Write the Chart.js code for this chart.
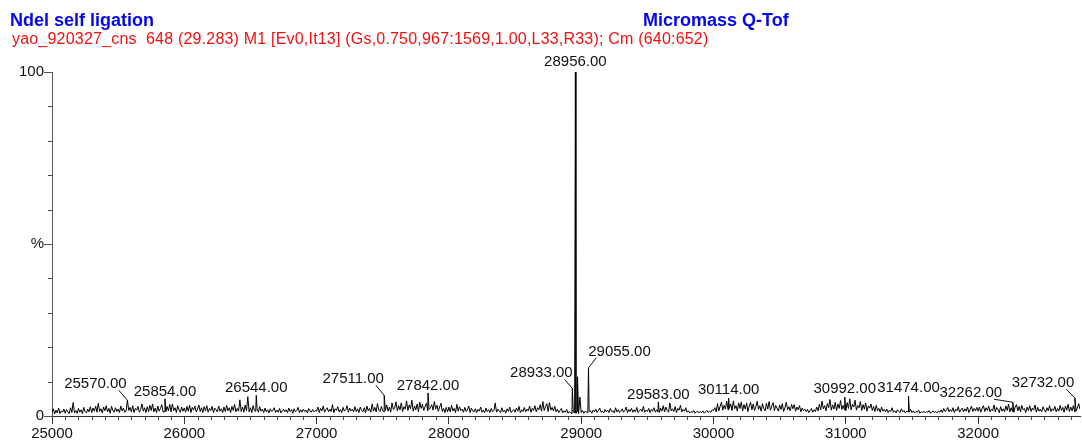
<!DOCTYPE html>
<html>
<head>
<meta charset="utf-8">
<title>Ndel self ligation</title>
<script src="https://cdn.jsdelivr.net/npm/chart.js@4.4.1/dist/chart.umd.min.js"></script>
<style>
    body { margin: 0; background: #fff; }
    #wrap { position: relative; width: 1082px; height: 443px; font-family: "Liberation Sans", Arial, sans-serif; }
    #spectrum { position: absolute; left: 0; top: 0; }
    .hdr { position: absolute; white-space: pre; line-height: 18px; }
    .blue { color: #0505f0; font-weight: bold; font-size: 18px; top: 11px; }
    .red { color: #f01010; font-size: 16px; letter-spacing: 0.2px; left: 12px; top: 30px; }
</style>
</head>
<body>
<div id="wrap">
    <canvas id="spectrum" width="1082" height="443"></canvas>
    <div class="hdr blue" style="left:10px">Ndel self ligation</div>
    <div class="hdr blue" style="left:643px">Micromass Q-Tof</div>
    <div class="hdr red">yao_920327_cns  648 (29.283) M1 [Ev0,It13] (Gs,0.750,967:1569,1.00,L33,R33); Cm (640:652)</div>
</div>
<script>
// baseline intensity (%), one value every 10 Da starting at 25000
const mzStart = 25000;
const mzStep = 10;
const noise25 = [1.0,2.1,0.6,1.7,0.9,2.3,0.7,1.5,1.1,2.0, 0.8,1.9,1.2,0.7,2.4,1.0,3.9,0.9,1.6,0.8,
                 2.2,1.1,1.8,0.7,2.5,1.3,0.9,2.0,1.2,2.7, 1.0,2.3,1.4,2.9,1.1,3.7,1.3,2.1,0.9,2.6,
                 1.5,3.0,1.2,2.2,0.8,2.8,1.6,1.1,2.4,1.3, 2.0,1.0,2.9,1.5,2.3,1.1,1.4,0.9,1.6,2.5,
                 1.2,3.0,1.0,2.2,1.7,2.8,1.1,1.9,3.5,1.4, 2.4,1.0,2.7,1.3,3.1,1.6,3.5,1.2,2.3,1.0,
                 2.9,1.4,2.2,3.3,1.1,1.3,1.2,2.8,1.5,3.4, 1.2,3.5,1.6,2.4,1.0,3.0,1.8,1.1,2.6,1.4];
const noise26 = [2.3,1.1,2.8,1.4,3.1,1.0,2.5,1.7,2.9,1.2, 2.0,3.2,1.3,2.4,1.0,2.7,1.5,3.0,1.1,2.2,
                 1.6,2.8,1.0,2.3,1.8,1.2,2.9,1.4,2.1,1.0, 2.6,1.3,3.1,1.5,2.4,1.0,2.8,1.6,3.4,1.2,
                 2.2,1.4,4.7,1.3,2.6,1.1,3.2,1.5,5.6,1.2, 2.4,1.0,3.0,1.6,1.3,2.2,1.1,2.7,1.4,2.0,
                 1.0,2.3,1.2,1.8,0.9,2.1,1.3,1.6,2.4,1.0, 1.7,1.1,2.2,0.9,1.5,2.0,1.2,1.8,1.0,2.3,
                 1.3,1.9,0.8,2.1,1.2,1.6,2.5,1.0,1.8,1.1, 2.0,1.3,1.7,0.9,2.2,1.4,1.1,1.9,1.2,1.6];
const noise27 = [1.4,2.6,1.0,2.2,1.5,2.9,1.1,1.8,2.4,1.2, 2.0,1.3,3.3,1.0,2.1,1.6,2.7,1.2,1.9,1.0,
                 2.5,1.4,1.8,3.0,1.1,2.3,1.5,2.0,1.2,2.7, 1.3,2.1,1.0,2.6,1.6,1.2,2.4,1.0,2.9,1.5,
                 2.2,1.1,3.5,1.4,2.5,1.2,3.6,1.7,1.3,2.8, 1.5,1.2,1.6,3.2,1.4,2.6,1.1,3.8,1.9,2.3,
                 4.1,1.5,3.0,1.8,3.8,1.3,2.7,2.0,4.4,1.6, 3.2,2.1,4.6,1.4,2.9,1.8,3.5,1.2,4.0,2.2,
                 3.4,1.6,2.8,3.7,1.5,1.9,2.4,3.3,1.7,4.2, 2.0,3.1,1.4,2.6,3.7,1.3,2.2,1.0,2.5,1.2];
const noise28 = [2.6,1.2,3.1,1.5,2.2,1.0,3.4,1.4,2.7,1.6, 2.0,1.1,2.5,1.3,1.8,2.9,1.0,2.3,1.5,1.2,
                 2.1,1.0,1.9,1.4,2.6,1.1,1.7,1.0,2.3,1.3, 1.8,1.0,2.2,1.2,1.6,3.8,1.1,2.0,1.4,1.0,
                 2.4,1.2,1.7,0.9,2.1,1.3,2.6,1.0,1.5,1.9, 1.1,2.3,1.4,2.8,1.0,1.8,1.3,2.5,1.2,2.0,
                 1.5,2.9,1.1,2.2,1.6,3.0,1.2,2.4,1.8,3.3, 1.4,4.2,1.6,2.7,3.6,1.3,3.9,1.7,2.5,1.5,
                 2.8,1.2,2.0,1.0,1.6,2.2,0.9,1.5,1.1,1.9, 0.8,1.3,0.9,0.7,1.1,1.0,0.8,1.2,0.6,1.0];
const noise29 = [1.0,1.6,0.8,1.4,1.1,0.9,1.3,1.5,0.8,1.7, 1.2,2.0,1.0,1.6,2.3,1.1,1.4,0.9,1.9,1.2,
                 1.7,1.0,2.2,1.3,1.5,0.9,2.4,1.2,1.8,1.0, 1.4,2.1,1.1,1.6,2.6,1.0,1.9,1.3,2.2,1.1,
                 1.8,1.2,2.5,1.0,1.6,2.0,1.3,2.8,1.1,1.7, 1.3,2.2,1.0,1.9,1.4,2.4,1.1,1.8,1.2,1.0,
                 2.3,1.4,3.0,1.2,2.6,1.6,1.1,3.8,1.5,2.1, 1.3,2.7,1.0,2.2,1.7,3.1,1.2,1.9,1.4,2.4,
                 1.1,1.5,0.9,1.3,1.0,1.6,0.8,1.2,1.4,0.9, 1.3,1.0,1.5,0.8,1.2,1.6,1.0,1.4,1.1,1.8];
const noise30 = [1.6,2.4,1.2,3.6,1.5,2.8,4.0,1.7,3.1,2.0, 4.3,1.8,2.2,3.5,1.6,4.4,2.1,3.0,1.4,3.8,
                 2.2,4.1,1.5,3.3,2.0,3.8,1.3,2.9,4.0,1.8, 3.5,1.6,2.7,4.3,1.9,3.0,1.4,3.6,2.2,1.5,
                 3.7,2.0,4.2,1.7,2.8,3.9,1.5,3.1,2.3,1.4, 3.2,1.9,3.6,1.3,2.5,4.0,1.8,2.7,1.5,3.4,
                 2.1,3.3,1.4,2.6,1.8,3.0,1.2,2.3,1.6,2.0, 1.3,1.9,1.0,1.6,2.2,1.1,1.8,1.3,2.6,1.5,
                 3.4,1.8,4.3,2.1,3.0,1.5,3.6,2.4,4.8,1.7, 3.2,2.0,4.0,1.6,3.5,2.2,4.5,1.9,3.1,1.8];
const noise31 = [1.5,3.9,2.2,5.0,1.8,3.4,2.6,4.6,1.7,3.0, 2.4,4.2,1.6,3.3,2.0,3.8,1.4,2.9,2.3,3.5,
                 1.6,2.8,1.3,3.1,1.5,2.2,1.1,2.6,1.4,1.9, 1.2,2.0,1.0,1.7,1.3,2.4,1.1,1.5,0.9,1.8,
                 1.3,1.0,2.1,1.2,1.6,0.9,1.4,1.2,1.1,1.9, 1.0,1.5,0.9,1.3,1.1,1.7,0.8,1.2,1.0,1.4,
                 0.9,1.3,1.1,1.6,0.8,1.2,1.5,1.0,1.3,0.9, 1.4,1.1,1.8,1.0,2.2,1.3,1.6,2.5,1.2,1.9,
                 1.3,2.4,1.0,2.0,1.5,2.7,1.1,1.8,2.3,1.2, 2.1,1.4,2.6,1.0,1.9,2.9,1.3,2.2,1.5,2.5];
const noise32 = [1.4,2.6,1.1,2.2,3.0,1.3,2.4,1.6,2.9,1.2, 2.0,1.5,3.2,1.2,2.5,1.8,1.0,2.7,1.4,2.1,
                 1.3,2.9,1.6,3.5,1.2,2.4,1.3,1.1,2.6,3.3, 1.5,2.8,1.2,3.1,1.8,2.2,1.0,2.6,1.6,3.0,
                 1.3,2.3,1.7,3.2,1.1,2.5,1.4,2.0,1.2,2.7, 1.8,1.1,2.4,1.5,3.0,1.3,2.1,1.6,2.8,1.2,
                 2.2,1.4,3.1,1.6,2.5,1.1,2.9,1.7,3.4,1.3, 2.6,1.5,3.0,1.2,1.4,2.3,3.6,2.0];

// labelled peaks (m/z, % intensity)
const peakMz  = [25570, 25854, 26544, 27511, 27842, 28933, 28956, 29055, 29583, 30114, 30992, 31474, 32262, 32732];
const peakPct = [4.6, 5.0, 6.0, 6.0, 6.7, 8.0, 100, 14.0, 4.1, 5.2, 5.5, 5.8, 4.0, 5.2];

// unlabelled shoulders beside the main peak
const shoulderMz  = [28972, 28990];
const shoulderPct = [11.4, 5.5];

const xTicks = [25000, 26000, 27000, 28000, 29000, 30000, 31000, 32000];
const yTicks = [0, 50, 100];

// label placement relative to the peak top (px); leader lines for shifted ones
const labelDx = [-32, 0, 0, -31, 0, -31, 0, 31, 0, 0, 0, 0, -42, -32];
const labelDy = [-12, -3, -3, -12, -3, -11, -6, -12, -3, -4, -4, -4, -5, -11];

function buildSpectrum() {
    let noise = [].concat(noise25, noise26, noise27, noise28, noise29, noise30, noise31, noise32);
    let marked = peakMz.concat(shoulderMz);
    let pts = [];
    noise.forEach((v, i) => {
        let mz = mzStart + i * mzStep;
        if (marked.indexOf(mz) < 0) pts.push({ x: mz, y: v });
    });
    peakMz.forEach((mz, i) => pts.push({ x: mz, y: peakPct[i] }));
    shoulderMz.forEach((mz, i) => pts.push({ x: mz, y: shoulderPct[i] }));
    pts.sort((a, b) => a.x - b.x);
    return pts;
}

const minorTicks = {
    id: 'minorTicks',
    afterDraw(chart) {
        let ctx = chart.ctx;
        let xs = chart.scales.x;
        let ys = chart.scales.y;
        ctx.save();
        ctx.strokeStyle = '#444';
        ctx.lineWidth = 1;
        ctx.beginPath();
        for (let v = 25100; v < xs.max; v += 100) {
            if (v % 1000 === 0) continue;
            let px = Math.round(xs.getPixelForValue(v)) + 0.5;
            ctx.moveTo(px, ys.bottom);
            ctx.lineTo(px, ys.bottom + 4);
        }
        for (let v = 10; v < 100; v += 10) {
            if (v === 50) continue;
            let py = Math.round(ys.getPixelForValue(v)) + 0.5;
            ctx.moveTo(xs.left, py);
            ctx.lineTo(xs.left - 4, py);
        }
        ctx.stroke();
        ctx.restore();
    }
};

const peakLabels = {
    id: 'peakLabels',
    afterDraw(chart) {
        let ctx = chart.ctx;
        let xs = chart.scales.x;
        let ys = chart.scales.y;
        ctx.save();
        ctx.font = '15px "Liberation Sans", Arial, sans-serif';
        ctx.fillStyle = '#111';
        ctx.strokeStyle = '#111';
        ctx.lineWidth = 1;
        ctx.textAlign = 'center';
        ctx.textBaseline = 'alphabetic';
        peakMz.forEach((mz, i) => {
            let text = mz.toFixed(2);
            let px = xs.getPixelForValue(mz);
            let py = ys.getPixelForValue(peakPct[i]);
            let cx = px + labelDx[i];
            let by = py + labelDy[i];
            ctx.fillText(text, cx, by);
            if (Math.abs(labelDx[i]) > 5) {
                let w = ctx.measureText(text).width;
                let sx = labelDx[i] < 0 ? cx + w / 2 - 8 : cx - w / 2 + 8;
                ctx.beginPath();
                ctx.moveTo(sx, by + 2);
                ctx.lineTo(px, py);
                ctx.stroke();
            }
        });
        ctx.restore();
    }
};

let ctx = document.getElementById('spectrum').getContext('2d');
let spectrumChart = new Chart(ctx, {
    type: 'line',
    data: {
        datasets: [{
            data: buildSpectrum(),
            borderColor: '#000',
            borderWidth: 1,
            pointRadius: 0,
            tension: 0,
            fill: false
        }]
    },
    options: {
        responsive: false,
        animation: false,
        layout: { padding: { top: 72, right: 2, left: 0, bottom: 0 } },
        plugins: { legend: { display: false }, tooltip: { enabled: false } },
        scales: {
            x: {
                type: 'linear',
                min: 25000,
                max: 32770,
                afterBuildTicks: (scale) => { scale.ticks = xTicks.map(v => ({ value: v })); },
                afterFit: (scale) => { scale.height = 27; },
                border: { display: true, color: '#333', width: 1 },
                grid: { drawOnChartArea: false, drawTicks: true, tickLength: 8, color: '#333' },
                ticks: {
                    color: '#111',
                    padding: 1,
                    maxRotation: 0,
                    callback: (v) => String(v),
                    font: { family: '"Liberation Sans", Arial, sans-serif', size: 15 }
                }
            },
            y: {
                type: 'linear',
                min: 0,
                max: 100,
                afterBuildTicks: (scale) => { scale.ticks = yTicks.map(v => ({ value: v })); },
                afterFit: (scale) => { scale.width = 52; },
                border: { display: true, color: '#555', width: 1 },
                grid: { drawOnChartArea: false, drawTicks: true, tickLength: 8, color: '#555' },
                ticks: {
                    color: '#111',
                    padding: 0,
                    callback: (v) => v === 50 ? '%' : String(v),
                    font: { family: '"Liberation Sans", Arial, sans-serif', size: 15 }
                }
            }
        }
    },
    plugins: [minorTicks, peakLabels]
});
</script>
</body>
</html>
